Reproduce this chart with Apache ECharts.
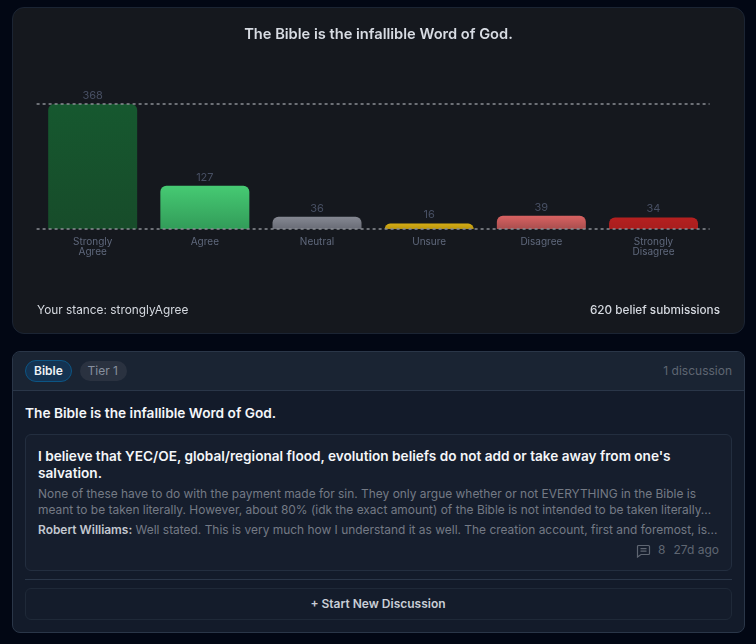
<!DOCTYPE html>
<html lang="en">
<head>
<meta charset="utf-8">
<title>The Bible is the infallible Word of God.</title>
<script src="https://cdn.jsdelivr.net/npm/echarts@6/dist/echarts.min.js"></script>
<style>
  html, body { margin: 0; padding: 0; width: 756px; height: 644px; overflow: hidden; background: #020714; font-family: Inter, "Open Sans", sans-serif; }
  .box { position: absolute; box-sizing: border-box; }
  .txt { position: absolute; white-space: nowrap; transform: translateY(-50%); }
  #poll { left: 12px; top: 7px; width: 733px; height: 327px; background: #15181e; border: 1px solid #1b2433; border-radius: 12px; }
  #chart { position: absolute; left: 12px; top: 7px; width: 733px; height: 327px; }
  #panel { left: 12px; top: 351px; width: 733px; height: 282px; background: #131b2a; border: 1px solid #2a3648; border-radius: 8px; overflow: hidden; }
  #panelHead { left: 13px; top: 352px; width: 731px; height: 39px; background: #1a2433; border-bottom: 1px solid #2a3648; border-radius: 7px 7px 0 0; }
  #topicPill { left: 25px; top: 360px; width: 47px; height: 22px; background: #143352; border: 1px solid #0c5584; border-radius: 11px; }
  #tierPill { left: 80px; top: 361px; width: 47px; height: 20px; background: #2a3240; border-radius: 10px; }
  #post { left: 25px; top: 434px; width: 707px; height: 137px; background: #161e2d; border: 1px solid #232e3f; border-radius: 6px; }
  #rule { left: 25px; top: 579px; width: 707px; height: 1px; background: #2a3648; }
  #newBtn { left: 25px; top: 588px; width: 707px; height: 32px; background: #141c2b; border: 1px solid #1f2938; border-radius: 6px; }
  svg { position: absolute; left: 636px; top: 544px; }
</style>
</head>
<body>
<div class="box" id="poll"></div>
<div id="chart"></div>
<div class="txt" style="left:37px;top:309.5px;font-size:11.85px;color:#d5d9e0">Your stance: stronglyAgree</div>
<div class="txt" style="right:36px;top:309.5px;font-size:11.75px;font-weight:500;color:#d5d9e0">620 belief submissions</div>

<div class="box" id="panel"></div>
<div class="box" id="panelHead"></div>
<div class="box" id="topicPill"></div>
<div class="box" id="tierPill"></div>
<div class="txt" style="left:34px;top:370px;font-size:12px;font-weight:600;color:#eef1f5">Bible</div>
<div class="txt" style="left:87.5px;top:370px;font-size:12px;color:#868f9e">Tier 1</div>
<div class="txt" style="right:24px;top:370px;font-size:12px;color:#5f6672">1 discussion</div>
<div class="txt" style="left:25px;top:412.5px;font-size:13.7px;font-weight:600;color:#f4f6f9">The Bible is the infallible Word of God.</div>

<div class="box" id="post"></div>
<div class="txt" style="left:38px;top:456px;font-size:13.62px;font-weight:600;color:#f4f6f9">I believe that YEC/OE, global/regional flood, evolution beliefs do not add or take away from one's</div>
<div class="txt" style="left:38px;top:473px;font-size:13.62px;font-weight:600;color:#f4f6f9">salvation.</div>
<div class="txt" style="left:38px;top:493px;font-size:11.95px;color:#747a85">None of these have to do with the payment made for sin. They only argue whether or not EVERYTHING in the Bible is</div>
<div class="txt" style="left:38px;top:509px;font-size:11.95px;color:#747a85">meant to be taken literally. However, about 80% (idk the exact amount) of the Bible is not intended to be taken literally...</div>
<div class="txt" style="left:38px;top:529px;font-size:11.95px;color:#747a85"><span style="font-weight:600;color:#c3c8d0">Robert Williams:</span> Well stated. This is very much how I understand it as well. The creation account, first and foremost, is...</div>
<svg width="15" height="14" viewBox="0 0 15 14" fill="none" stroke="#5f6672" stroke-width="1.2">
  <path d="M2.5 1.5h10a1 1 0 0 1 1 1v7a1 1 0 0 1-1 1H5l-3.5 2.5V2.5a1 1 0 0 1 1-1z"/>
  <path d="M4.5 4.6h6M4.5 7.2h6"/>
</svg>
<div class="txt" style="left:658px;top:549px;font-size:12px;color:#5f6672">8</div>
<div class="txt" style="right:37px;top:549px;font-size:12px;color:#5f6672">27d ago</div>
<div class="box" id="rule"></div>
<div class="box" id="newBtn"></div>
<div class="txt" style="left:378px;top:603px;font-size:12px;font-weight:600;color:#c9ced6;transform:translate(-50%,-50%)">+ Start New Discussion</div>

<script>
// Stance tallies for the statement, one bar per answer option
const statement = 'The Bible is the infallible Word of God.';
const stances = ['Strongly\nAgree', 'Agree', 'Neutral', 'Unsure', 'Disagree', 'Strongly\nDisagree'];
const counts = [368, 127, 36, 16, 39, 34];
const barTopColors = ['#16582f', '#46ca73', '#858892', '#d6ad14', '#d96262', '#b52020'];
const barBottomColors = ['#174c2a', '#329c59', '#696c76', '#b8950f', '#a94e4e', '#a81e1e'];

const chart = echarts.init(document.getElementById('chart'), null, { renderer: 'canvas' });
chart.setOption({
  backgroundColor: 'transparent',
  animation: false,
  textStyle: { fontFamily: 'Inter' },
  title: {
    text: statement,
    left: 'center',
    top: 15,
    textStyle: { fontSize: 14.65, fontWeight: 600, color: '#d8dce3', fontFamily: 'Inter' }
  },
  grid: { left: 24.6, top: 97, width: 673, height: 125 },
  xAxis: {
    type: 'category',
    data: stances,
    axisLine: { show: false },
    axisTick: { show: false },
    axisLabel: { interval: 0, margin: 8, fontSize: 10, lineHeight: 10, color: '#5f687c', fontFamily: 'Inter', verticalAlign: 'top' }
  },
  yAxis: {
    type: 'value',
    min: 0,
    max: 368,
    interval: 368,
    z: 3,
    axisLabel: { show: false },
    axisLine: { show: false },
    axisTick: { show: false },
    splitLine: { show: true, lineStyle: { color: '#8a8d94', type: [3, 3], width: 1.5 } }
  },
  series: [{
    type: 'bar',
    barWidth: 89,
    data: counts.map((value, i) => ({
      value,
      itemStyle: {
        color: new echarts.graphic.LinearGradient(0, 0, 0, 1, [
          { offset: 0, color: barTopColors[i] },
          { offset: 1, color: barBottomColors[i] }
        ]),
        borderRadius: [6, 6, 0, 0]
      }
    })),
    label: { show: true, position: 'top', distance: 3, fontSize: 11, color: '#474f63', fontFamily: 'Inter' }
  }]
});
</script>
</body>
</html>
